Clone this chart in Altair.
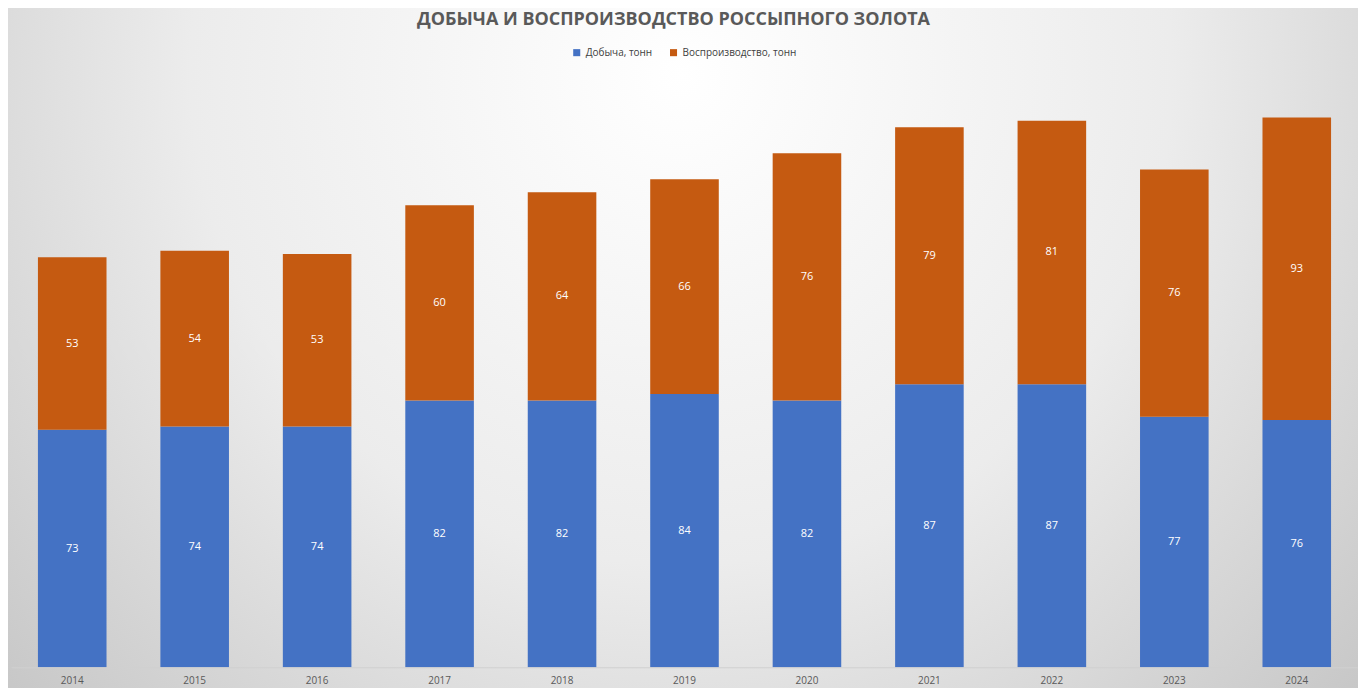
import altair as alt
import pandas as pd

years = ["2014", "2015", "2016", "2017", "2018", "2019", "2020", "2021", "2022", "2023", "2024"]
mining = [73, 74, 74, 82, 82, 84, 82, 87, 87, 77, 76]
reproduction = [53, 54, 53, 60, 64, 66, 76, 79, 81, 76, 93]
series = ["Добыча, тонн", "Воспроизводство, тонн"]
title_text = ["ДОБЫЧА И ВОСПРОИЗВОДСТВО РОССЫПНОГО ЗОЛОТА"]

rows = []
for i, y in enumerate(years):
    rows.append({"year": y, "series": series[0], "order": 0, "value": mining[i]})
    rows.append({"year": y, "series": series[1], "order": 1, "value": reproduction[i]})
data = pd.DataFrame(rows)

W, H = 1350, 587
PL, PT = 3, 73

bg = alt.Chart(pd.DataFrame({"a": [0]})).mark_rect(
    clip=False,
    fill={"gradient": "radial", "x1": 0.5, "y1": 0.3, "r1": 0,
          "x2": 0.5, "y2": 0.3, "r2": 0.8,
          "stops": [{"offset": 0, "color": "#ffffff"},
                    {"offset": 0.45, "color": "#ececec"},
                    {"offset": 1, "color": "#b8b8b8"}]},
).encode(
    x=alt.value(-PL - 8), x2=alt.value(1366 - PL - 8),
    y=alt.value(-PT - 8), y2=alt.value(694 - PT - 8),
)

title = alt.Chart(pd.DataFrame({"t": title_text})).mark_text(
    fontSize=18, fontWeight="bold", color="#595959", font="Open Sans",
    align="center", baseline="middle", clip=False,
).encode(x=alt.value(664), y=alt.value(-62), text="t:N")

base = alt.Chart(data).transform_stack(
    stack="value", groupby=["year"], as_=["y0", "y1"],
    sort=[alt.SortField("order", "ascending")],
).transform_calculate(mid="(datum.y0 + datum.y1) / 2")

xenc = alt.X("year:N", sort=years, title=None,
             scale=alt.Scale(paddingInner=0.44, paddingOuter=0.22),
             axis=alt.Axis(ticks=False, domain=True, domainColor="#d0d0d0",
                           labelAngle=0, labelFontSize=10, labelColor="#595959",
                           labelFont="Open Sans", labelPadding=8, zindex=1))

bars = base.mark_bar().encode(
    x=xenc,
    y=alt.Y("y0:Q", scale=alt.Scale(domain=[0, 180]), axis=None),
    y2="y1:Q",
    color=alt.Color("series:N", sort=series,
                    scale=alt.Scale(domain=series, range=["#4472C4", "#C55A11"]),
                    legend=alt.Legend(title=None, orient="none", direction="horizontal",
                                      legendX=562, legendY=-34, symbolType="square",
                                      symbolSize=50, labelFontSize=10,
                                      labelColor="#404040", labelFont="Open Sans",
                                      columnPadding=16, zindex=1)),
)

labels = base.mark_text(color="white", fontSize=11, font="Open Sans").encode(
    x=alt.X("year:N", sort=years),
    y=alt.Y("mid:Q"),
    text="value:Q",
)

chart = alt.layer(bg, title, bars, labels).properties(
    width=W, height=H,
    autosize=alt.AutoSizeParams(type="none"),
    padding={"left": PL, "top": PT, "right": 0, "bottom": 20},
).configure_view(strokeWidth=0)

chart.save("out.html", embed_options={"renderer": "svg", "actions": False})
